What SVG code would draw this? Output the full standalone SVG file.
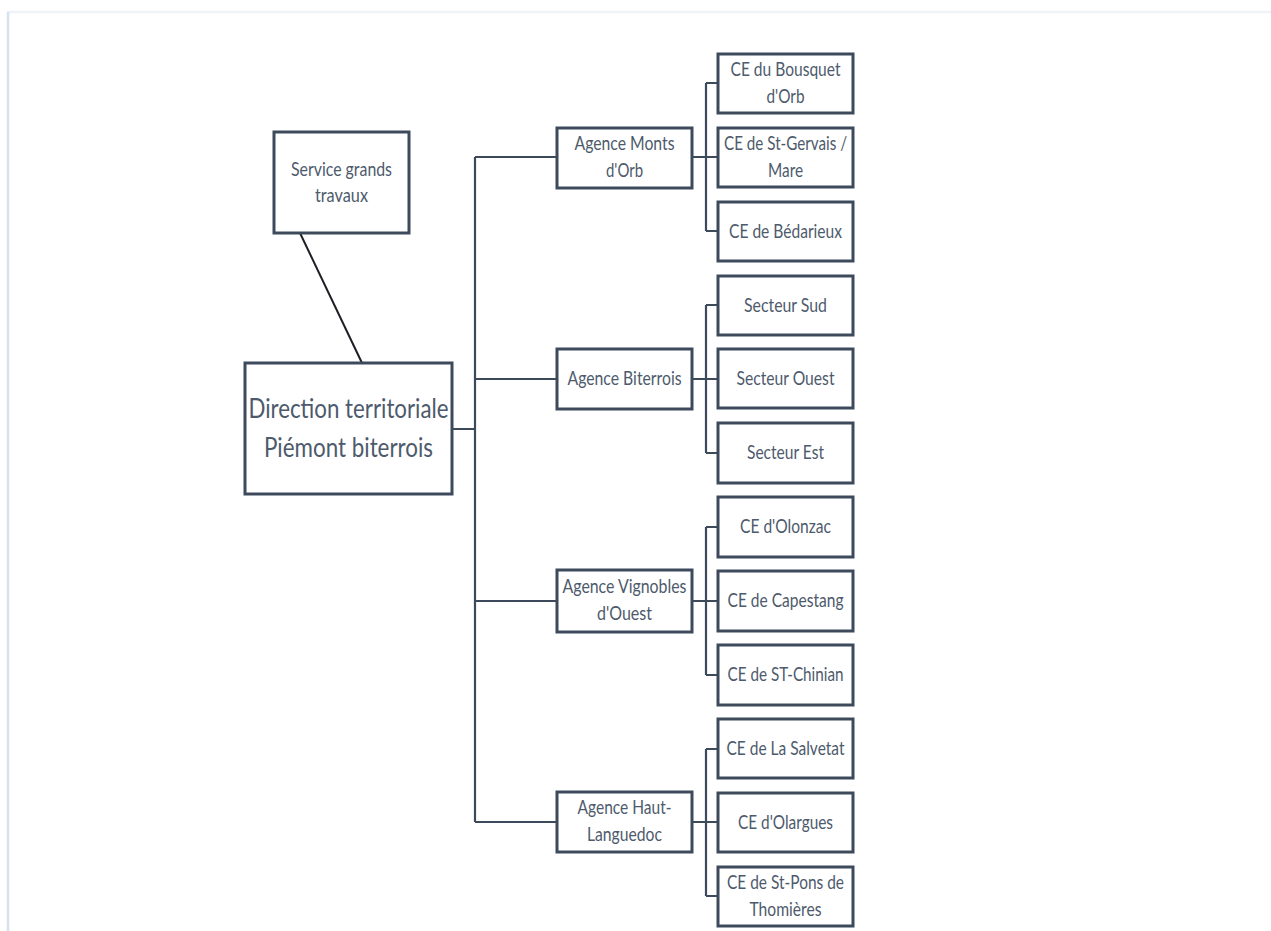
<svg xmlns="http://www.w3.org/2000/svg" width="1271" height="931" viewBox="0 0 1271 931">
<style>
.box{fill:#ffffff;stroke:#3c4a5c;stroke-width:3}
.con{fill:none;stroke:#3c4a5c;stroke-width:2.2}
.blk{fill:none;stroke:#1c1f24;stroke-width:2}
.t{font-family:Lato,"Open Sans","Liberation Sans",sans-serif;font-size:19px;fill:#4d5a6c;text-anchor:middle}
.big{font-size:27px}
</style>
<rect x="0" y="0" width="1271" height="931" fill="#ffffff"/>
<g id="page-border">
<line x1="7" y1="12" x2="1271" y2="12" stroke="#eef3f7" stroke-width="2.5"/>
<line x1="8" y1="12" x2="8" y2="931" stroke="#d8e2ef" stroke-width="2.5"/>
</g>
<g id="connectors">
<line class="blk" x1="300" y1="233" x2="362" y2="363"/>
<path class="con" d="M452 429H475M475 157V822M475 157H557M475 379H557M475 601H557M475 822H557"/>
<path class="con" d="M692 157H718M706 83V231M706 83H718M706 231H718"/>
<path class="con" d="M692 379H718M706 305V453M706 305H718M706 453H718"/>
<path class="con" d="M692 601H718M706 527V675M706 527H718M706 675H718"/>
<path class="con" d="M692 822H718M706 749V896M706 749H718M706 896H718"/>
</g>
<g id="service-grands-travaux">
<rect class="box" x="274" y="132" width="135" height="101"/>
<text class="t" x="341.5" y="176" textLength="101" lengthAdjust="spacingAndGlyphs">Service grands</text>
<text class="t" x="341.5" y="202" textLength="53" lengthAdjust="spacingAndGlyphs">travaux</text>
</g>
<g id="direction">
<rect class="box" x="245" y="363" width="207" height="131"/>
<text class="t big" x="348.5" y="418" textLength="200" lengthAdjust="spacingAndGlyphs">Direction territoriale</text>
<text class="t big" x="348.5" y="457" textLength="169" lengthAdjust="spacingAndGlyphs">Piémont biterrois</text>
</g>
<g id="agence-monts-orb">
<rect class="box" x="557" y="128" width="135" height="60"/>
<text class="t" x="624.5" y="150" textLength="100" lengthAdjust="spacingAndGlyphs">Agence Monts</text>
<text class="t" x="624.5" y="177" textLength="37" lengthAdjust="spacingAndGlyphs">d'Orb</text>
</g>
<g id="agence-biterrois">
<rect class="box" x="557" y="349" width="135" height="60"/>
<text class="t" x="624.5" y="385" textLength="114" lengthAdjust="spacingAndGlyphs">Agence Biterrois</text>
</g>
<g id="agence-vignobles">
<rect class="box" x="557" y="570" width="135" height="62"/>
<text class="t" x="624.5" y="593" textLength="124" lengthAdjust="spacingAndGlyphs">Agence Vignobles</text>
<text class="t" x="624.5" y="620" textLength="55" lengthAdjust="spacingAndGlyphs">d'Ouest</text>
</g>
<g id="agence-haut-languedoc">
<rect class="box" x="557" y="792" width="135" height="60"/>
<text class="t" x="624.5" y="814" textLength="94" lengthAdjust="spacingAndGlyphs">Agence Haut-</text>
<text class="t" x="624.5" y="841" textLength="75" lengthAdjust="spacingAndGlyphs">Languedoc</text>
</g>
<g id="ce-bousquet">
<rect class="box" x="718" y="54" width="135" height="59"/>
<text class="t" x="785.5" y="76" textLength="110" lengthAdjust="spacingAndGlyphs">CE du Bousquet</text>
<text class="t" x="785.5" y="103" textLength="38" lengthAdjust="spacingAndGlyphs">d'Orb</text>
</g>
<g id="ce-st-gervais">
<rect class="box" x="718" y="128" width="135" height="59"/>
<text class="t" x="785.5" y="150" textLength="123" lengthAdjust="spacingAndGlyphs">CE de St-Gervais /</text>
<text class="t" x="785.5" y="177" textLength="35" lengthAdjust="spacingAndGlyphs">Mare</text>
</g>
<g id="ce-bedarieux">
<rect class="box" x="718" y="202" width="135" height="59"/>
<text class="t" x="785.5" y="238" textLength="113" lengthAdjust="spacingAndGlyphs">CE de Bédarieux</text>
</g>
<g id="secteur-sud">
<rect class="box" x="718" y="276" width="135" height="59"/>
<text class="t" x="785.5" y="312" textLength="83" lengthAdjust="spacingAndGlyphs">Secteur Sud</text>
</g>
<g id="secteur-ouest">
<rect class="box" x="718" y="349" width="135" height="59"/>
<text class="t" x="785.5" y="385" textLength="98" lengthAdjust="spacingAndGlyphs">Secteur Ouest</text>
</g>
<g id="secteur-est">
<rect class="box" x="718" y="423" width="135" height="60"/>
<text class="t" x="785.5" y="459" textLength="77" lengthAdjust="spacingAndGlyphs">Secteur Est</text>
</g>
<g id="ce-olonzac">
<rect class="box" x="718" y="497" width="135" height="60"/>
<text class="t" x="785.5" y="533" textLength="91" lengthAdjust="spacingAndGlyphs">CE d'Olonzac</text>
</g>
<g id="ce-capestang">
<rect class="box" x="718" y="571" width="135" height="60"/>
<text class="t" x="785.5" y="607" textLength="116" lengthAdjust="spacingAndGlyphs">CE de Capestang</text>
</g>
<g id="ce-st-chinian">
<rect class="box" x="718" y="645" width="135" height="60"/>
<text class="t" x="785.5" y="681" textLength="116" lengthAdjust="spacingAndGlyphs">CE de ST-Chinian</text>
</g>
<g id="ce-la-salvetat">
<rect class="box" x="718" y="719" width="135" height="59"/>
<text class="t" x="785.5" y="755" textLength="118" lengthAdjust="spacingAndGlyphs">CE de La Salvetat</text>
</g>
<g id="ce-olargues">
<rect class="box" x="718" y="793" width="135" height="59"/>
<text class="t" x="785.5" y="829" textLength="95" lengthAdjust="spacingAndGlyphs">CE d'Olargues</text>
</g>
<g id="ce-st-pons">
<rect class="box" x="718" y="867" width="135" height="59"/>
<text class="t" x="785.5" y="889" textLength="117" lengthAdjust="spacingAndGlyphs">CE de St-Pons de</text>
<text class="t" x="785.5" y="916" textLength="72" lengthAdjust="spacingAndGlyphs">Thomières</text>
</g>
</svg>
